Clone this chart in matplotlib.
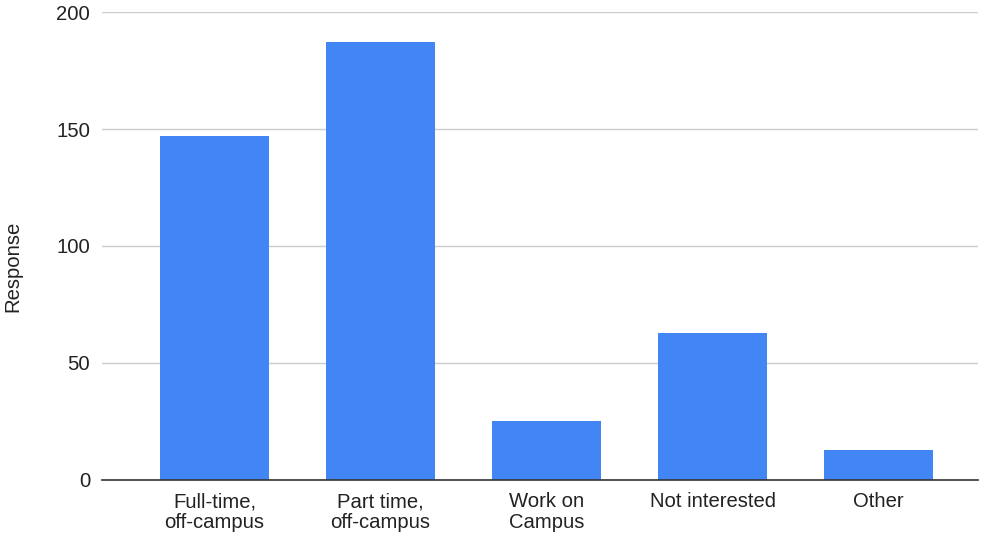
import matplotlib
matplotlib.use("Agg")
import matplotlib.pyplot as plt

categories = ["Full-time,\noff-campus", "Part time,\noff-campus", "Work on\nCampus", "Not interested", "Other"]
values = [147, 187, 25, 63, 13]
yticks = [0, 50, 100, 150, 200]

plt.rcParams['font.family'] = ['Liberation Sans', 'DejaVu Sans']

FS = 14.6
fig = plt.figure(figsize=(9.92, 5.36), dpi=100)
ax = fig.add_axes([0.1028, 0.1045, 0.8832, 0.8731])
x = list(range(len(categories)))
ax.bar(x, values, width=0.656, color="#4285F4", zorder=3)
ax.set_xlim(-0.678, 4.6)
ax.set_ylim(0, 200)
ax.set_yticks(yticks)
ax.set_xticks(x)
ax.set_xticklabels(categories, fontsize=FS, color="#222222", linespacing=1.1)
ax.tick_params(axis='y', length=0, pad=8.5, labelsize=FS, labelcolor="#222222")
ax.tick_params(axis='x', length=0, pad=9)
ax.grid(axis='y', color="#cccccc", linewidth=1, zorder=0)
for s in ["top", "right", "left"]:
    ax.spines[s].set_visible(False)
ax.spines["bottom"].set_color("#333333")
ax.spines["bottom"].set_linewidth(1.2)
ax.spines["bottom"].set_zorder(4)
ax.set_ylabel("Response", fontsize=FS, color="#222222")
ax.yaxis.set_label_coords(-0.091, 0.457)
fig.savefig("out.png", dpi=100)
